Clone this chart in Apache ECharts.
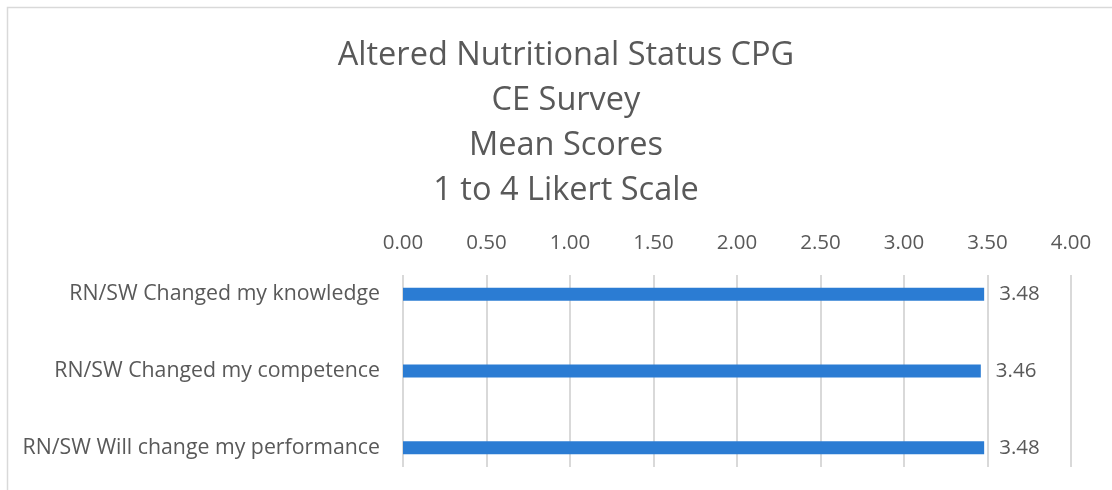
<!DOCTYPE html>
<html><head><meta charset="utf-8">
<script src="https://cdn.jsdelivr.net/npm/echarts@6/dist/echarts.min.js"></script>
<style>html,body{margin:0;padding:0;background:#fff}#c{width:1112px;height:490px}</style>
</head><body><div id="c"></div>
<script>
const titleLines = ["Altered Nutritional Status CPG", "CE Survey", "Mean Scores", "1 to 4 Likert Scale"];
const categories = ["RN/SW Changed my knowledge", "RN/SW Changed my competence", "RN/SW Will change my performance"];
const values = [3.48, 3.46, 3.48];
const axisMin = 0, axisMax = 4, axisStep = 0.5;

const FONT = "Open Sans";
const GREY = "#595959";
const chart = echarts.init(document.getElementById('c'), null, {renderer: 'canvas'});
chart.setOption({
  animation: false,
  backgroundColor: '#fff',
  textStyle: {fontFamily: FONT},
  graphic: [{type: 'rect', shape: {x: 7.5, y: 7.5, width: 1200, height: 600}, style: {fill: 'none', stroke: '#d9d9d9', lineWidth: 1.5}, silent: true}],
  title: {
    text: titleLines.join('\n'), left: 561, top: 28, textAlign: 'center',
    textStyle: {fontFamily: FONT, fontWeight: 'normal', fontSize: 32.5, color: GREY, lineHeight: 45}
  },
  grid: [
    {left: 403, right: 41, top: 275, height: 192},
    {left: 403, right: 41, top: 256, bottom: 4}
  ],
  xAxis: [
    {gridIndex: 0, type: 'value', position: 'top', min: axisMin, max: axisMax, interval: axisStep,
     axisLine: {show: false}, axisTick: {show: false},
     axisLabel: {formatter: v => v.toFixed(2), color: GREY, fontSize: 20.5, fontFamily: FONT, margin: 21},
     splitLine: {lineStyle: {color: '#d9d9d9', width: 2}}},
    {gridIndex: 1, type: 'value', min: axisMin, max: axisMax, interval: axisStep, show: false, splitLine: {show: false}}
  ],
  yAxis: [
    {gridIndex: 0, type: 'category', data: categories, show: false},
    {gridIndex: 1, type: 'category', data: categories, inverse: true,
     axisLine: {show: false}, axisTick: {show: false},
     axisLabel: {color: GREY, fontSize: 21.3, fontFamily: FONT, margin: 23}}
  ],
  series: [{
    type: 'bar', xAxisIndex: 1, yAxisIndex: 1, data: values, barWidth: 13,
    itemStyle: {color: '#2B7CD3'},
    label: {show: true, position: 'right', distance: 15, formatter: p => p.value.toFixed(2), color: GREY, fontSize: 20.5, fontFamily: FONT}
  }]
});
</script></body></html>
